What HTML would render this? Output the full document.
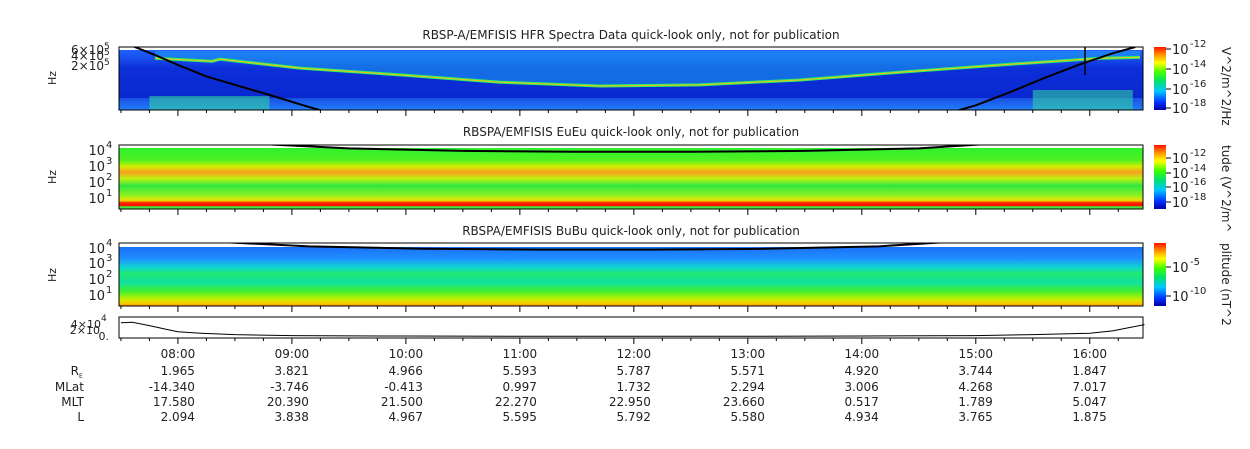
<!DOCTYPE html>
<html><head><meta charset="utf-8"><style>
body{margin:0;background:#fff;width:1250px;height:449px;overflow:hidden}
svg{display:block;font-family:"DejaVu Sans","Liberation Sans",sans-serif}
</style></head><body>
<svg id="c" width="1250" height="449" xmlns="http://www.w3.org/2000/svg">
<defs>
<linearGradient id="cb" x1="0" y1="1" x2="0" y2="0">
<stop offset="0" stop-color="#0000a0"/><stop offset="0.12" stop-color="#0030ff"/><stop offset="0.3" stop-color="#00c8ff"/><stop offset="0.45" stop-color="#00e070"/><stop offset="0.6" stop-color="#40ff00"/><stop offset="0.75" stop-color="#ffff00"/><stop offset="0.88" stop-color="#ff9000"/><stop offset="1" stop-color="#ff1000"/></linearGradient>
<linearGradient id="g1" x1="0" y1="0" x2="0" y2="1">
<stop offset="0" stop-color="#2060ff"/><stop offset="0.12" stop-color="#1a50f0"/><stop offset="0.3" stop-color="#0c2fd8"/><stop offset="0.8" stop-color="#0a28d0"/><stop offset="0.9" stop-color="#1050e8"/><stop offset="1" stop-color="#2080ff"/></linearGradient>
<linearGradient id="g2" x1="0" y1="0" x2="0" y2="1">
<stop offset="0" stop-color="#30f030"/><stop offset="0.2" stop-color="#50f020"/><stop offset="0.3" stop-color="#d0f000"/><stop offset="0.4" stop-color="#f8a020"/><stop offset="0.5" stop-color="#c0f010"/><stop offset="0.62" stop-color="#30e840"/><stop offset="0.78" stop-color="#90f020"/><stop offset="0.86" stop-color="#f0e000"/><stop offset="0.9" stop-color="#ff2000"/><stop offset="0.95" stop-color="#ff1000"/><stop offset="0.96" stop-color="#40e840"/><stop offset="1" stop-color="#40e840"/></linearGradient>
<linearGradient id="g3" x1="0" y1="0" x2="0" y2="1">
<stop offset="0" stop-color="#1a70f8"/><stop offset="0.2" stop-color="#2090ff"/><stop offset="0.35" stop-color="#10d8d0"/><stop offset="0.45" stop-color="#20e870"/><stop offset="0.6" stop-color="#10e0a0"/><stop offset="0.75" stop-color="#40f030"/><stop offset="0.88" stop-color="#c0f000"/><stop offset="0.95" stop-color="#f8d000"/><stop offset="1" stop-color="#ff9000"/></linearGradient>
<clipPath id="cp1"><rect x="119" y="47" width="1024" height="63"/></clipPath>
<clipPath id="cp2"><rect x="119" y="145" width="1024" height="64"/></clipPath>
<clipPath id="cp3"><rect x="119" y="243" width="1024" height="63"/></clipPath>
</defs>
<g id="root"></g>
</svg>
<script>
const hours=["08:00","09:00","10:00","11:00","12:00","13:00","14:00","15:00","16:00"];
const hourVals=[8,9,10,11,12,13,14,15,16];
const rowLabels=["R_E","MLat","MLT","L"];
const re=["1.965","3.821","4.966","5.593","5.787","5.571","4.920","3.744","1.847"];
const mlat=["-14.340","-3.746","-0.413","0.997","1.732","2.294","3.006","4.268","7.017"];
const mlt=["17.580","20.390","21.500","22.270","22.950","23.660","0.517","1.789","5.047"];
const lsh=["2.094","3.838","4.967","5.595","5.792","5.580","4.934","3.765","1.875"];
// panel-4 trace (x10^4)
const p4t=[7.5,7.6,7.75,7.9,8.0,8.2,8.5,9.0,10,11,12,13,14,15,15.5,16,16.2,16.35,16.48];
const p4v=[3.0,3.1,2.4,1.6,1.1,0.8,0.5,0.3,0.2,0.15,0.15,0.15,0.2,0.3,0.5,0.8,1.3,2.0,2.6];
// HFR emission band (x10^5 Hz) vs time
const bandT=[7.8,8.3,8.37,9.07,9.95,10.83,11.7,12.58,13.46,14.33,15.21,16.09,16.44];
const bandF=[3.2,2.6,3.0,1.6,1.0,0.6,0.46,0.5,0.7,1.2,2.0,3.2,3.4];
// cyclotron curve panel 1 (x10^5 Hz)
const fceT=[7.6,7.8,8.0,8.25,8.5,8.8,9.1,9.4,14.7,15.0,15.3,15.6,15.9,16.2,16.4];
const fceF=[7.5,4.0,2.0,0.9,0.5,0.25,0.12,0.06,0.06,0.12,0.3,0.8,2.0,4.5,7.0];
// fce panels 2/3 (log10 Hz)
const fce2T=[8.6,9.5,10.5,11.5,12.5,13.5,14.5,15.2];
const fce2F=[4.3,4.0,3.85,3.8,3.8,3.85,4.0,4.3];

const X0=119,X1=1143,T0=7.483,T1=16.467;
const xs=t=>X0+(t-T0)/(T1-T0)*(X1-X0);
const NS="http://www.w3.org/2000/svg",root=document.getElementById('root');
function el(tag,a,parent){const e=document.createElementNS(NS,tag);for(const k in a)e.setAttribute(k,a[k]);(parent||root).appendChild(e);return e;}
function txt(x,y,s,anchor,size,parent){const e=el('text',{x:x,y:y,'text-anchor':anchor||'middle','font-size':size||12,fill:'#222'},parent);e.textContent=s;return e;}

el('text',{x:631,y:39,'text-anchor':'middle','font-size':12,fill:'#222'}).textContent="RBSP-A/EMFISIS  HFR Spectra Data quick-look only, not for publication";
el('text',{x:631,y:136,'text-anchor':'middle','font-size':12,fill:'#222'}).textContent="RBSPA/EMFISIS  EuEu quick-look only, not for publication";
el('text',{x:631,y:235,'text-anchor':'middle','font-size':12,fill:'#222'}).textContent="RBSPA/EMFISIS  BuBu quick-look only, not for publication";

const panels=[{y0:47,y1:110,g:'g1',n:'hfr-spectrogram'},{y0:145,y1:209,g:'g2',n:'eueu-spectrogram'},{y0:243,y1:306,g:'g3',n:'bubu-spectrogram'}];
panels.forEach((p,i)=>{
  const g=el('g',{});
  
  
  el('rect',{x:X0,y:p.y0+(i==2?4:3),width:X1-X0,height:p.y1-p.y0-(i==2?4:3),fill:'url(#'+p.g+')'},g);
});
const y1f=f=>47+33*Math.log10(7/f);
const c1=el('g',{'clip-path':'url(#cp1)'});
let d="";bandT.forEach((t,i)=>{d+=(i?'L':'M')+xs(t)+','+y1f(bandF[i]);});
let up="M"+xs(bandT[0])+",51 "+d.replace('M','L')+" L"+xs(bandT[bandT.length-1])+",51Z";
const ar=el('path',{d:up,fill:'#1ca0f0',opacity:0.55},c1);
const bl=el('path',{d:d,stroke:'#30f060','stroke-width':3,fill:'none'},c1);
el('path',{d:d,stroke:'#f0c020','stroke-width':1,fill:'none'},c1);
const lb=el('rect',{x:X0,y:98,width:X1-X0,height:12,fill:'#2a7cf8',opacity:0.5},c1);
el('rect',{x:xs(7.75),y:96,width:120,height:14,fill:'#30d0a0',opacity:0.6},c1);
el('rect',{x:xs(15.5),y:90,width:100,height:20,fill:'#30d0a0',opacity:0.6},c1);
d="";fceT.forEach((t,i)=>{d+=(i?'L':'M')+xs(t)+','+y1f(fceF[i]);});
const fc=el('path',{d:d,stroke:'#000','stroke-width':2,fill:'none'},c1);
el('line',{x1:1085,y1:47,x2:1085,y2:75,stroke:'#000','stroke-width':1.5});
[[145,209,'cp2'],[243,306,'cp3']].forEach(([a,b,cp],k)=>{
  const ys=v=>b-(v-0.4)/(4.2-0.4)*(b-a);
  let dd="";fce2T.forEach((t,i)=>{dd+=(i?'L':'M')+xs(t-(k?0.35:0))+','+ys(fce2F[i]);});
  const p=el('path',{d:dd,stroke:'#000','stroke-width':2,fill:'none','clip-path':'url(#'+cp+')'});
  
});
[[47,110],[145,209],[243,306],[317,338]].forEach(([a,b],i)=>{
  const f=el('rect',{x:X0,y:a,width:X1-X0,height:b-a,fill:i==3?'#fff':'none',stroke:'#000','stroke-width':1});
  
  for(let t=7.5;t<=16.45;t+=0.25){const x=xs(t);const maj=Math.abs(t-Math.round(t))<0.01;
    el('line',{x1:x,y1:b,x2:x,y2:b+(maj?6:3),stroke:'#000'});}
});
[[78,'Hz'],[177,'Hz'],[275,'Hz']].forEach(([y,s])=>{const t=el('text',{x:56,y:y,'text-anchor':'middle','font-size':11,fill:'#222',transform:'rotate(-90 56 '+y+')'});t.textContent=s;});
[["6×10",54],["4×10",60],["2×10",70]].forEach(([s,y])=>{txt(104,y,s,'end',12);txt(104,y-5,"5",'start',9);});
[[151,"4"],[167,"3"],[183,"2"],[199,"1"]].forEach(([y,e])=>{txt(105,y+4,"10",'end',13);txt(106,y-3,e,'start',10);});
[[249,"4"],[264,"3"],[280,"2"],[296,"1"]].forEach(([y,e])=>{txt(105,y+4,"10",'end',13);txt(106,y-3,e,'start',10);});
txt(101,328,"4×10",'end',11);txt(101,321,"4",'start',9);txt(100,334,"2×10",'end',11);txt(109,340,"0.",'end',11);
const y4=v=>337-v/4*19;
d="";p4t.forEach((t,i)=>{d+=(i?'L':'M')+xs(t)+','+y4(p4v[i]);});
const tr=el('path',{d:d,stroke:'#000','stroke-width':1,fill:'none'});
[[47,110,["-12","-14","-16","-18"],[49,69,89,108],"V^2/m^2/Hz"],[145,209,["-12","-14","-16","-18"],[158,173,187,202],"tude (V^2/m^"],[243,306,["-5","-10"],[267,296],"plitude (nT^2"]].forEach(([a,b,ex,ys,lab],i)=>{
  const r=el('rect',{x:1154,y:a,width:12,height:b-a,fill:'url(#cb)'});
  ys.forEach((y,j)=>{el('line',{x1:1166,y1:y,x2:1171,y2:y,stroke:'#000'});txt(1172,y+5,"10",'start',13);txt(1190,y-2,ex[j],'start',10);});
  const t=el('text',{x:1222,y:a,'font-size':12,fill:'#222',transform:'rotate(90 1222 '+a+')'});t.textContent=lab;
  
});
const rowsY=[358,375,391,406,421];
hours.forEach((h,i)=>{const x=xs(hourVals[i]);
  const t=txt(x,rowsY[0],h,'middle',12);
  [re,mlat,mlt,lsh].forEach((arr,k)=>txt(x+17,rowsY[k+1],arr[i],'end',12));
});
txt(79,rowsY[1],"R",'end',12);txt(79,rowsY[1]+3,"E",'start',6);
rowLabels.slice(1).forEach((s,k)=>txt(84,rowsY[k+2],s,'end',12));
</script>
</body></html>
